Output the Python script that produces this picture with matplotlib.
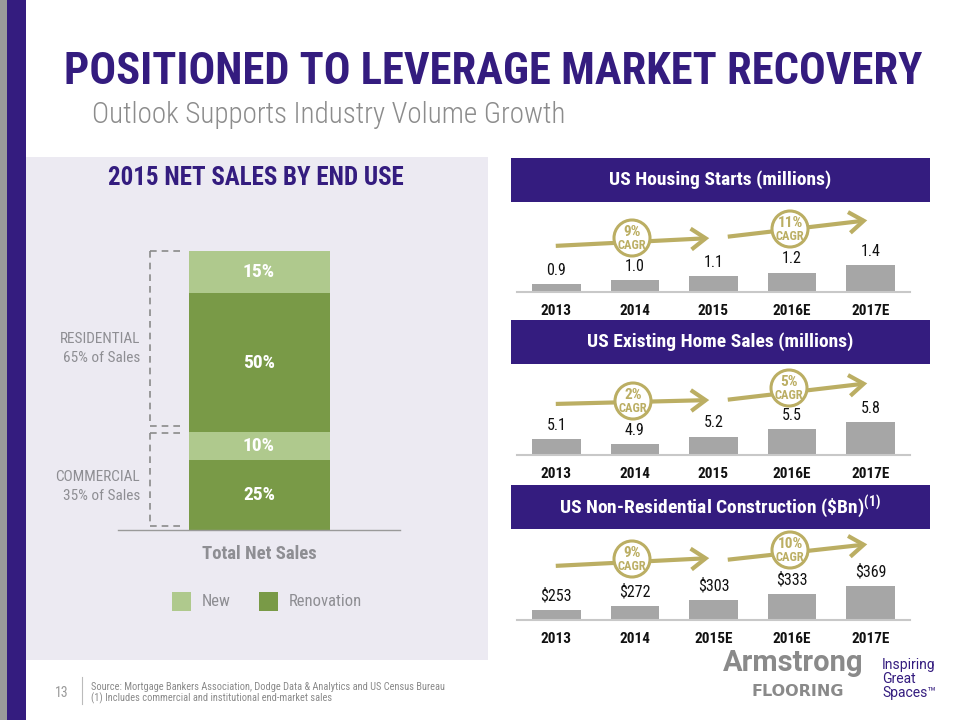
import matplotlib
matplotlib.use("Agg")
import matplotlib.pyplot as plt
from matplotlib.patches import Rectangle, Ellipse, FancyArrowPatch
from matplotlib.lines import Line2D

# ---------------- data ----------------
years_a = ["2013", "2014", "2015", "2016E", "2017E"]
years_c = ["2013", "2014", "2015E", "2016E", "2017E"]
housing_starts = [0.9, 1.0, 1.1, 1.2, 1.4]
home_sales = [5.1, 4.9, 5.2, 5.5, 5.8]
nonres_constr = [253, 272, 303, 333, 369]
cagr_housing = ["9%", "11%"]
cagr_sales = ["2%", "5%"]
cagr_nonres = ["9%", "10%"]

segments = ["Commercial Renovation", "Commercial New", "Residential Renovation", "Residential New"]
segment_pct = [25, 10, 50, 15]
segment_type = ["Renovation", "New", "Renovation", "New"]

# ---------------- style ----------------
W, H = 960, 720
PURPLE = "#341C7F"
OLIVE = "#BBAE63"
BARGRAY = "#A6A6A6"
PANEL = "#ECEAF2"
GRAYTXT = "#8E8E93"
LIGHTG = "#AFC98D"
DARKG = "#799A47"
FN = ["Roboto Condensed", "Barlow Condensed", "Fira Sans Condensed", "DejaVu Sans"]
FR = ["Roboto", "DejaVu Sans"]

plt.rcParams["mathtext.fontset"] = "custom"
plt.rcParams["mathtext.rm"] = "Roboto Condensed:bold"
plt.rcParams["mathtext.it"] = "Roboto Condensed:bold"
plt.rcParams["mathtext.bf"] = "Roboto Condensed:bold"

fig = plt.figure(figsize=(9.6, 7.2), dpi=100)
fig.patch.set_facecolor("white")


def fx(x):
    return x / W


def fy(y):
    return 1 - y / H


def rect(x0, y0, x1, y1, color, z=-5, **kw):
    fig.add_artist(Rectangle((fx(x0), fy(y1)), (x1 - x0) / W, (y1 - y0) / H,
                             transform=fig.transFigure, facecolor=color,
                             edgecolor="none", zorder=z, **kw))


def txt(x, y, s, **kw):
    kw.setdefault("family", FN)
    kw.setdefault("ha", "center")
    kw.setdefault("va", "center")
    fig.text(fx(x), fy(y), s, transform=fig.transFigure, **kw)


def axes_px(x0, y0, x1, y1):
    ax = fig.add_axes([fx(x0), fy(y1), (x1 - x0) / W, (y1 - y0) / H])
    ax.set_facecolor("none")
    return ax


# ---------------- background ----------------
rect(0, 0, 7, 720, "#9A9A9A")
rect(7, 0, 26, 720, PURPLE)
rect(26, 157, 488, 660, PANEL)

txt(64, 72, "POSITIONED TO LEVERAGE MARKET RECOVERY", ha="left", fontsize=32,
    fontweight="black", color=PURPLE)
txt(92, 115, "Outlook Supports Industry Volume Growth", ha="left", fontsize=21,
    fontweight="light", color="#8C8C8C")

# ---------------- left panel: stacked bar ----------------
txt(256, 178, "2015 NET SALES BY END USE", fontsize=18, fontweight="bold", color=PURPLE)

axL = axes_px(118, 251, 400, 530)
bottom = 0
for pct, typ in zip(segment_pct, segment_type):
    c = LIGHTG if typ == "New" else DARKG
    axL.bar([1], [pct], bottom=bottom, width=1.0, color=c, edgecolor="none")
    axL.text(1, bottom + pct / 2, f"{pct}%", ha="center", va="center", color="white",
             fontsize=14, fontweight="bold", family=FN)
    bottom += pct
axL.set_xlim(0, 2)
axL.set_ylim(0, 100)
for s in ["top", "right", "left"]:
    axL.spines[s].set_visible(False)
axL.spines["bottom"].set_color("#9A9A9A")
axL.spines["bottom"].set_linewidth(1.0)
axL.set_xticks([])
axL.set_yticks([])

# dashed brackets
dash = dict(color="#8A8A8A", lw=1.2, linestyle=(0, (4, 3)), transform=fig.transFigure)
for (ya, yb) in [(251, 426), (433, 526)]:
    fig.add_artist(Line2D([fx(150), fx(150)], [fy(ya), fy(yb)], **dash))
    fig.add_artist(Line2D([fx(150), fx(180)], [fy(ya), fy(ya)], **dash))
    fig.add_artist(Line2D([fx(150), fx(180)], [fy(yb), fy(yb)], **dash))

txt(140, 339, "RESIDENTIAL", ha="right", fontsize=11, color=GRAYTXT)
txt(140, 358, "65% of Sales", ha="right", fontsize=11, color=GRAYTXT)
txt(140, 477, "COMMERCIAL", ha="right", fontsize=11, color=GRAYTXT)
txt(140, 496, "35% of Sales", ha="right", fontsize=11, color=GRAYTXT)

txt(259, 554, "Total Net Sales", fontsize=13.5, fontweight="bold", color=GRAYTXT)

rect(172, 592, 191, 611, LIGHTG, z=2)
txt(202, 601, "New", ha="left", fontsize=12, color=GRAYTXT)
rect(259, 592, 278, 611, DARKG, z=2)
txt(289, 601, "Renovation", ha="left", fontsize=12, color=GRAYTXT)

# ---------------- right panels ----------------
panels = [
    dict(title="US Housing Starts (millions)", hdr=(158, 202), base=292,
         vals=housing_starts, years=years_a, v0=0.69, k=38.0, fmt="{:.1f}",
         cagr=cagr_housing, arr1=((553, 246), (712, 238)), arr2=((725, 237), (870, 220)),
         c1=(632, 238), c2=(790, 229)),
    dict(title="US Existing Home Sales (millions)", hdr=(320, 364), base=455,
         vals=home_sales, years=years_a, v0=4.45, k=24.4, fmt="{:.1f}",
         cagr=cagr_sales, arr1=((553, 404), (712, 400)), arr2=((725, 400), (870, 383)),
         c1=(633, 401), c2=(789, 388)),
    dict(title="US Non-Residential Construction (\\$Bn)$^{(1)}$", hdr=(485, 529), base=620,
         vals=nonres_constr, years=years_c, v0=205, k=0.207, fmt="${:d}",
         cagr=cagr_nonres, arr1=((553, 566), (712, 558)), arr2=((725, 560), (870, 544)),
         c1=(632, 559), c2=(790, 550)),
]

for p in panels:
    y0, y1 = p["hdr"]
    rect(511, y0, 930, y1, PURPLE, z=1)
    txt(720, (y0 + y1) / 2, p["title"], fontsize=14, fontweight="bold", color="white",
        zorder=3)

    base = p["base"]
    hpx = 80
    ax = axes_px(517, base - hpx, 910, base)
    ax.bar(range(5), p["vals"], width=0.62, color=BARGRAY, edgecolor="none", zorder=2)
    ax.set_xlim(-0.5, 4.5)
    ax.set_ylim(p["v0"], p["v0"] + hpx / p["k"])
    for s in ["top", "right", "left"]:
        ax.spines[s].set_visible(False)
    ax.spines["bottom"].set_color("#C8C8C8")
    ax.spines["bottom"].set_linewidth(1.5)
    ax.set_xticks([])
    ax.set_yticks([])
    for i, v in enumerate(p["vals"]):
        ax.annotate(p["fmt"].format(v), (i, v), xytext=(0, 10), textcoords="offset points",
                    ha="center", va="center", fontsize=11.5, family=FN, color="#111111")
        ax.annotate(p["years"][i], (i, 0), xycoords=("data", "axes fraction"),
                    xytext=(0, -13.5), textcoords="offset points", ha="center",
                    va="center", fontsize=11, fontweight="bold", family=FN, color="#111111")

    for (a, b) in [p["arr1"], p["arr2"]]:
        fig.add_artist(FancyArrowPatch((fx(a[0]), fy(a[1])), (fx(b[0]), fy(b[1])),
                                       transform=fig.transFigure,
                                       arrowstyle="->,head_length=1.05,head_width=0.75",
                                       mutation_scale=10, color=OLIVE, lw=3.0,
                                       zorder=4, joinstyle="miter", capstyle="butt"))
    for (cx, cy), lab in zip([p["c1"], p["c2"]], p["cagr"]):
        r = 18
        fig.add_artist(Ellipse((fx(cx), fy(cy)), 2 * r / W, 2 * r / H,
                               transform=fig.transFigure, facecolor="white",
                               edgecolor=OLIVE, lw=2.2, zorder=5))
        txt(cx, cy - 6, lab, fontsize=11, fontweight="bold", color=OLIVE, zorder=6)
        txt(cx, cy + 7.5, "CAGR", fontsize=9, fontweight="bold", color=OLIVE, zorder=6)

# ---------------- footer ----------------
txt(62, 693, "13", fontsize=10, color="#9A9A9A")
fig.add_artist(Line2D([fx(82), fx(82)], [fy(677), fy(704)], color="#BBBBBB", lw=0.8,
                      transform=fig.transFigure))
txt(91, 687, "Source: Mortgage Bankers Association, Dodge Data & Analytics and US Census Bureau",
    ha="left", fontsize=7.5, color="#8A8A8A")
txt(91, 698, "(1) Includes commercial and institutional end-market sales", ha="left",
    fontsize=7.5, color="#8A8A8A")

txt(793, 663, "Armstrong", family=FR, fontsize=21, fontweight="bold", color="#8A8A8A")
txt(798, 692, "FLOORING", family=["DejaVu Sans"], fontsize=11.5, fontweight="bold",
    color="#8A8A8A")
txt(882, 665, "Inspiring", ha="left", family=FR, fontsize=10, color=PURPLE)
txt(882, 679, "Great", ha="left", family=FR, fontsize=10, color=PURPLE)
txt(882, 693, "Spaces\u2122", ha="left", family=FR, fontsize=10, color=PURPLE)

fig.savefig("out.png", dpi=100, facecolor="white")
